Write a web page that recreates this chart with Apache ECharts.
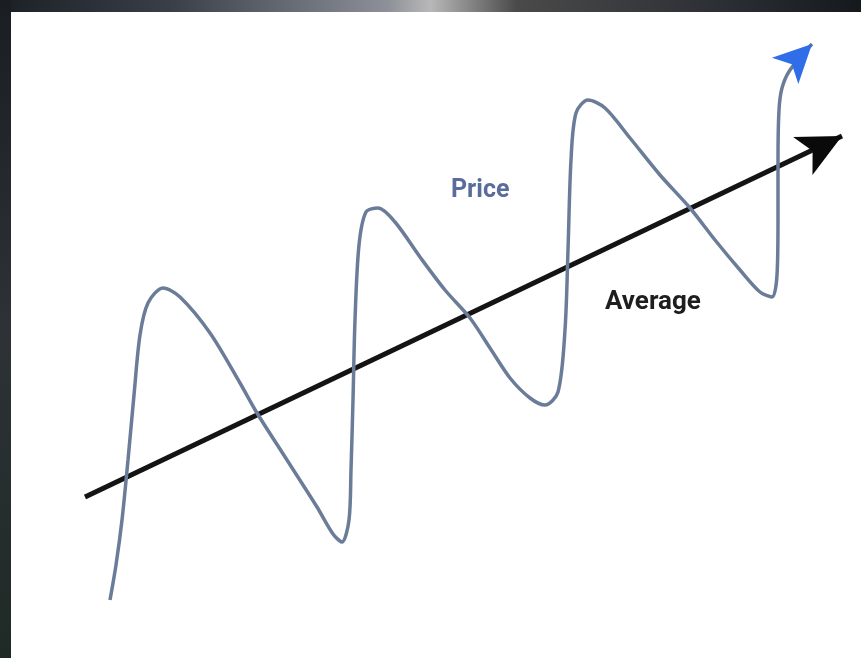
<!DOCTYPE html>
<html>
<head>
<meta charset="utf-8">
<script src="https://cdn.jsdelivr.net/npm/echarts@6/dist/echarts.min.js"></script>
<style>
html,body{margin:0;padding:0;background:#fff;}
#chart{width:861px;height:658px;}
</style>
</head>
<body>
<div id="chart"></div>
<script>
// Price path (schematic units: x to the right, y upward)
const priceX = [110,116,122,128,134,140,148,163,180,210,240,257,287,317,333,342,349,351,353,355,359,366,378,395,420,445,470,490,510,530,545,558,565,568,571,576,588,605,630,660,690,715,740,760,772,777,778,778,779,782,790,812];
const priceY = [58,93,138,198,263,323,355,370,361,325,275,245,198,151,124,116,138,188,258,338,413,446,450,436,401,368,340,310,280,260,253,266,328,408,498,545,558,550,520,483,450,418,388,366,361,383,438,498,548,570,588,614];
// Average trend (start and end)
const avgX = [85, 842];
const avgY = [161, 522];
const labels = ["Price", "Average"];

const chart = echarts.init(document.getElementById('chart'));

const priceData = priceX.map((x, i) => {
  const d = { value: [x, priceY[i]] };
  if (i === priceX.length - 1) {
    d.symbol = 'arrow'; d.symbolSize = [28, 38]; d.symbolRotate = -45;
    d.itemStyle = { color: '#2f6ee8' };
  }
  return d;
});
const avgData = avgX.map((x, i) => {
  const d = { value: [x, avgY[i]] };
  if (i === avgX.length - 1) {
    d.symbol = 'arrow'; d.symbolSize = [32, 44]; d.symbolRotate = -63;
    d.itemStyle = { color: '#0a0a0a' };
  }
  return d;
});

chart.setOption({
  animation: false,
  backgroundColor: '#ffffff',
  grid: { left: 0, right: 0, top: 0, bottom: 0 },
  xAxis: { type: 'value', min: 0, max: 861, show: false },
  yAxis: { type: 'value', min: 0, max: 658, show: false },
  graphic: [
    { type: 'rect', z: -10, shape: { x: 0, y: 0, width: 861, height: 12 },
      style: { fill: new echarts.graphic.LinearGradient(0, 0, 1, 0, [
        { offset: 0, color: '#1c2026' }, { offset: 0.2, color: '#3a3f48' },
        { offset: 0.45, color: '#8d9098' }, { offset: 0.5, color: '#b8b8b8' },
        { offset: 0.6, color: '#4a4a4a' }, { offset: 0.85, color: '#2a2d33' },
        { offset: 1, color: '#15181c' }]) } },
    { type: 'rect', z: -10, shape: { x: 0, y: 0, width: 11, height: 658 },
      style: { fill: new echarts.graphic.LinearGradient(0, 0, 0, 1, [
        { offset: 0, color: '#1a1d22' }, { offset: 0.5, color: '#2e3236' },
        { offset: 1, color: '#1f2a26' }]) } },
    { type: 'text', left: 451, top: 178, z: 10,
      style: { text: labels[0], font: 'bold 25px Roboto', fill: '#5a6c9c' } },
    { type: 'text', left: 605, top: 289, z: 10,
      style: { text: labels[1], font: 'bold 26px Roboto', fill: '#1e1e1e' } }
  ],
  series: [
    {
      name: 'Average', type: 'line', data: avgData, symbol: 'none', showSymbol: true,
      lineStyle: { color: '#141414', width: 5 }, z: 2, silent: true
    },
    {
      name: 'Price', type: 'line', data: priceData, symbol: 'none', smooth: 0.3,
      lineStyle: { color: '#6b7c98', width: 3.5 }, z: 3, silent: true
    }
  ]
});
</script>
</body>
</html>
